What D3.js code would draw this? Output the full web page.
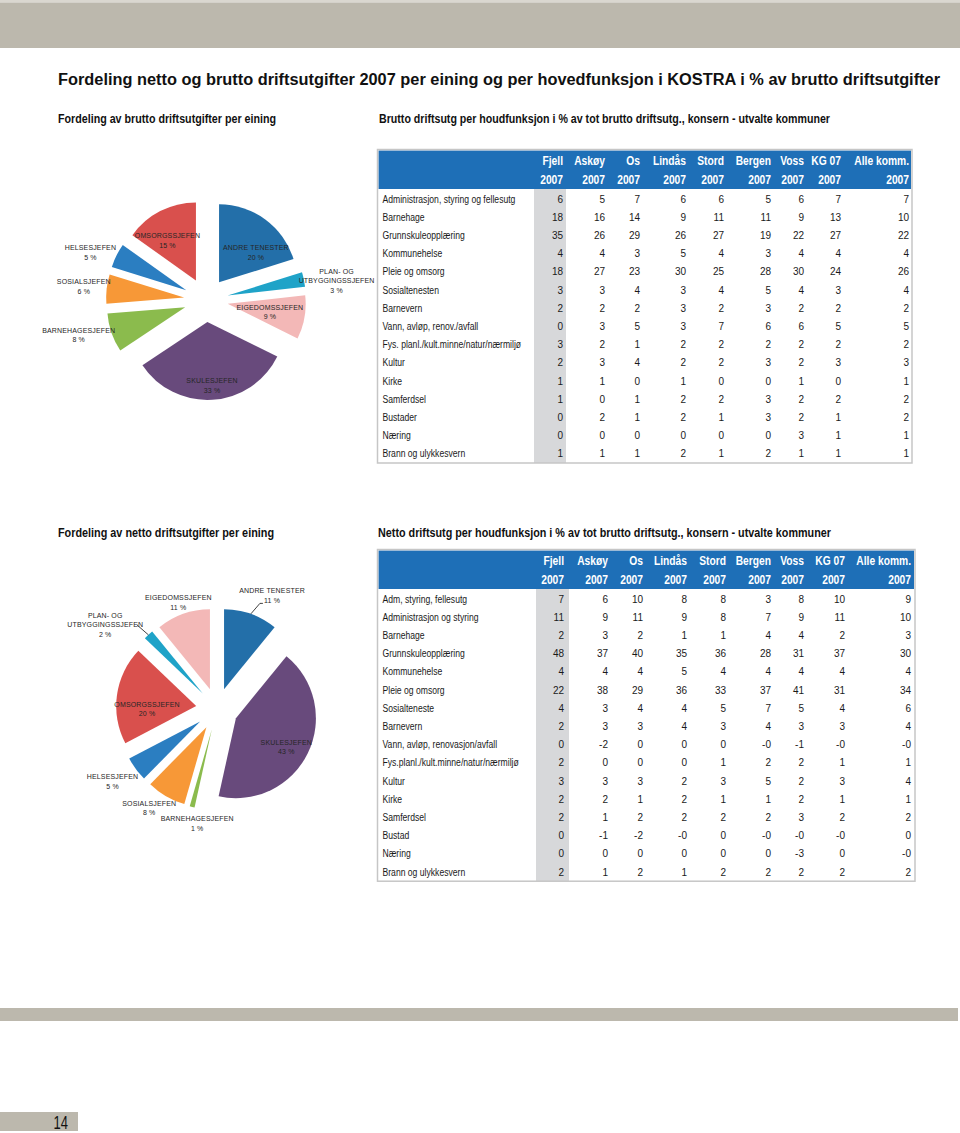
<!DOCTYPE html>
<html><head><meta charset="utf-8">
<script src="https://cdn.jsdelivr.net/npm/d3@7/dist/d3.min.js"></script>
<style>html,body{margin:0;padding:0;background:#fff}svg{display:block}</style>
</head><body>
<svg id="page" width="960" height="1133"></svg>
<script>
// ---------------- DATA ----------------
const pageTitle = "Fordeling netto og brutto driftsutgifter 2007 per eining og per hovedfunksjon i KOSTRA i % av brutto driftsutgifter";
const grossPieTitle = "Fordeling av brutto driftsutgifter per eining";
const grossTableTitle = "Brutto driftsutg per houdfunksjon i % av tot brutto driftsutg., konsern - utvalte kommuner";
const netPieTitle = "Fordeling av netto driftsutgifter per eining";
const netTableTitle = "Netto driftsutg per houdfunksjon i % av tot brutto driftsutg., konsern - utvalte kommuner";
const pageNumber = "14";

const unitNames = ["ANDRE TENESTER","PLAN- OG UTBYGGINGSSJEFEN","EIGEDOMSSJEFEN","SKULESJEFEN","BARNEHAGESJEFEN","SOSIALSJEFEN","HELSESJEFEN","OMSORGSSJEFEN"];
const unitColors = ["#236fa9","#1fa3c8","#f3b8b7","#684a7c","#8bbb4d","#f79837","#2b7ec1","#d9504d"];

const grossPieUnits  = ["ANDRE TENESTER","PLAN- OG UTBYGGINGSSJEFEN","EIGEDOMSSJEFEN","SKULESJEFEN","BARNEHAGESJEFEN","SOSIALSJEFEN","HELSESJEFEN","OMSORGSSJEFEN"];
const grossPieShares = [20, 3, 9, 33, 8, 6, 5, 15];
const netPieUnits    = ["ANDRE TENESTER","SKULESJEFEN","BARNEHAGESJEFEN","SOSIALSJEFEN","HELSESJEFEN","OMSORGSSJEFEN","PLAN- OG UTBYGGINGSSJEFEN","EIGEDOMSSJEFEN"];
const netPieShares   = [11, 43, 1, 8, 5, 20, 2, 11];

const municipalities = ["Fjell","Askøy","Os","Lindås","Stord","Bergen","Voss","KG 07","Alle komm."];
const yearLabel = "2007";

const grossFunctions = ["Administrasjon, styring og fellesutg","Barnehage","Grunnskuleopplæring","Kommunehelse","Pleie og omsorg","Sosialtenesten","Barnevern","Vann, avløp, renov./avfall","Fys. planl./kult.minne/natur/nærmiljø","Kultur","Kirke","Samferdsel","Bustader","Næring","Brann og ulykkesvern"];
const grossFjell  = [6,18,35,4,18,3,2,0,3,2,1,1,0,0,1];
const grossAskoy  = [5,16,26,4,27,3,2,3,2,3,1,0,2,0,1];
const grossOs     = [7,14,29,3,23,4,2,5,1,4,0,1,1,0,1];
const grossLindas = [6,9,26,5,30,3,3,3,2,2,1,2,2,0,2];
const grossStord  = [6,11,27,4,25,4,2,7,2,2,0,2,1,0,1];
const grossBergen = [5,11,19,3,28,5,3,6,2,3,0,3,3,0,2];
const grossVoss   = [6,9,22,4,30,4,2,6,2,2,1,2,2,3,1];
const grossKG07   = [7,13,27,4,24,3,2,5,2,3,0,2,1,1,1];
const grossAlle   = [7,10,22,4,26,4,2,5,2,3,1,2,2,1,1];

const netFunctions = ["Adm, styring, fellesutg","Administrasjon og styring","Barnehage","Grunnskuleopplæring","Kommunehelse","Pleie og omsorg","Sosialteneste","Barnevern","Vann, avløp, renovasjon/avfall","Fys.planl./kult.minne/natur/nærmiljø","Kultur","Kirke","Samferdsel","Bustad","Næring","Brann og ulykkesvern"];
const netFjell  = [7,11,2,48,4,22,4,2,0,2,3,2,2,0,0,2];
const netAskoy  = [6,9,3,37,4,38,3,3,-2,0,3,2,1,-1,0,1];
const netOs     = [10,11,2,40,4,29,4,3,0,0,3,1,2,-2,0,2];
const netLindas = [8,9,1,35,5,36,4,4,0,0,2,2,2,-0,0,1];
const netStord  = [8,8,1,36,4,33,5,3,0,1,3,1,2,0,0,2];
const netBergen = [3,7,4,28,4,37,7,4,-0,2,5,1,2,-0,0,2];
const netVoss   = [8,9,4,31,4,41,5,3,-1,2,2,2,3,-0,-3,2];
const netKG07   = [10,11,2,37,4,31,4,3,-0,1,3,1,2,-0,0,2];
const netAlle   = [9,10,3,30,4,34,6,4,-0,1,4,1,2,0,-0,2];

// ---------------- LAYOUT ----------------
const SANS = "'Liberation Sans',Arial,sans-serif";
const BAND = "#bcb8ad";

const svg = d3.select("#page");
const color = d3.scaleOrdinal().domain(unitNames).range(unitColors);
const fmt = v => Object.is(v, -0) ? "-0" : String(v);

function condense(sel, factor){
  sel.each(function(){
    const w = this.getComputedTextLength();
    d3.select(this).attr("textLength", w*factor).attr("lengthAdjust","spacingAndGlyphs");
  });
}

// page bands
svg.append("rect").attr("x",0).attr("y",0).attr("width",960).attr("height",2.5).attr("fill","#dad7d0");
svg.append("rect").attr("x",0).attr("y",2.5).attr("width",960).attr("height",45.5).attr("fill",BAND);
svg.append("rect").attr("x",0).attr("y",1008).attr("width",958).attr("height",13).attr("fill",BAND);
svg.append("rect").attr("x",0).attr("y",1112).attr("width",78).attr("height",19).attr("fill",BAND);
const pn = svg.append("text").attr("x",68).attr("y",1129).attr("text-anchor","end")
  .attr("font-family",SANS).attr("font-size",18).attr("fill","#111").text(pageNumber);
condense(pn, 0.72);

// titles
function heading(txt, x, y, size, len){
  svg.append("text").attr("x",x).attr("y",y).attr("font-family",SANS).attr("font-weight","bold")
    .attr("font-size",size).attr("fill","#111").attr("textLength",len).attr("lengthAdjust","spacingAndGlyphs").text(txt);
}
heading(pageTitle, 58, 85, 16, 882);
heading(grossPieTitle, 58, 122.5, 12, 218);
heading(grossTableTitle, 379, 122.5, 12, 451);
heading(netPieTitle, 58, 536.5, 12, 216);
heading(netTableTitle, 378, 536.5, 12, 453);

// ---------------- PIES ----------------
function drawPie(o){
  const pie = d3.pie().sort(null).value(d => d.share);
  const data = pie(o.units.map((u,i) => ({unit:u, share:o.shares[i]})));
  const arc = d3.arc().innerRadius(0).outerRadius(o.r);
  const dir = a => [Math.sin(a), -Math.cos(a)];
  const mid = d => (d.startAngle + d.endAngle)/2;
  const g = svg.append("g").attr("transform",`translate(${o.cx},${o.cy})`);
  g.selectAll("path.slice").data(data).join("path").attr("class","slice")
    .attr("transform", d => { const [x,y] = dir(mid(d)); return `translate(${x*o.explode},${y*o.explode})`; })
    .attr("d", arc).attr("fill", d => color(d.data.unit));
  (o.leaders || []).forEach(L => {
    const d = data[L.index];
    const a = mid(d);
    const [x1,y1] = dir(a).map(v => v*(o.r + o.explode));
    const [x2,y2] = dir(a + L.dd*Math.PI/180).map(v => v*L.dist);
    const pts = [[x1,y1],[x2,y2]];
    if (L.tick) pts.push([x2 + L.tick, y2]);
    g.append("path").attr("d", d3.line()(pts)).attr("fill","none").attr("stroke","#111").attr("stroke-width",0.8);
  });
  const lineH = 9.7;
  data.forEach((d,i) => {
    const [dist, dd] = o.labelPolar[i];
    const a = mid(d) + dd*Math.PI/180;
    const [x,y] = dir(a).map(v => v*dist);
    const lines = d.data.unit.replace("OG ", "OG\n").split("\n").concat([d.data.share + " %"]);
    const t = g.append("text").attr("text-anchor","middle").attr("font-family",SANS)
      .attr("font-size",7).attr("fill","#262626").attr("letter-spacing",0.15);
    const y0 = y - (lines.length-1)*lineH/2 + 2.5;
    lines.forEach((ln,k) => t.append("tspan").attr("x",x).attr("y",y0 + k*lineH).text(ln));
  });
}

drawPie({units:grossPieUnits, shares:grossPieShares, cx:206, cy:300, r:78, explode:22,
  labelPolar:[[69,10],[132,3.5],[65,0.6],[86,-0.4],[132,3.7],[123,0.1],[125,-4],[71,-5.6]]});
drawPie({units:netPieUnits, shares:netPieShares, cx:217, cy:709, r:80, explode:21,
  labelPolar:[[126,6.3],[79,2.8],[116,-4.4],[120,4.1],[127,1.9],[70,-8],[140,-10.2],[113,-0.4]],
  leaders:[{index:0, dist:114, dd:2.5, tick:3},{index:6, dist:116, dd:-0.8}]});

// ---------------- TABLES ----------------
function drawTable(o){
  const g = svg.append("g");
  const y = d3.scaleBand().domain(o.functions).range([o.rowsTop, o.rowsTop + o.rowH*o.functions.length]);
  const x = d3.scaleOrdinal().domain(municipalities).range(o.colRight);
  const bottom = o.rowsTop + o.rowH*o.functions.length;
  g.append("rect").attr("x",o.grayX[0]).attr("y",o.headerBottom).attr("width",o.grayX[1]-o.grayX[0])
    .attr("height",bottom - o.headerBottom).attr("fill","#d7d8da");
  g.append("rect").attr("x",o.left+1).attr("y",o.top+1).attr("width",o.right-o.left-2)
    .attr("height",o.headerBottom-o.top-1).attr("fill","#1e6fb7");
  g.append("rect").attr("x",o.left).attr("y",o.top).attr("width",o.right-o.left)
    .attr("height",bottom-o.top).attr("fill","none").attr("stroke","#c6c6c6").attr("stroke-width",1.5);
  const mun = g.selectAll("text.mun").data(municipalities).join("text").attr("class","mun")
    .attr("x", d => x(d)).attr("y", o.top+15.5).attr("text-anchor","end")
    .attr("font-family",SANS).attr("font-weight","bold").attr("font-size",12.5).attr("fill","#fff").text(d => d);
  const yr = g.selectAll("text.yr").data(municipalities).join("text").attr("class","yr")
    .attr("x", d => x(d)).attr("y", o.top+34.5).attr("text-anchor","end")
    .attr("font-family",SANS).attr("font-weight","bold").attr("font-size",12.5).attr("fill","#fff").text(yearLabel);
  condense(mun, 0.82); condense(yr, 0.82);
  const fn = g.selectAll("text.fn").data(o.functions).join("text").attr("class","fn")
    .attr("x", o.left+5).attr("y", d => y(d) + y.bandwidth()/2 + 3.5)
    .attr("font-family",SANS).attr("font-size",10).attr("fill","#1a1a1a").text(d => d);
  condense(fn, 0.86);
  o.columns.forEach((col, ci) => {
    const m = municipalities[ci];
    g.selectAll(null).data(col).join("text")
      .attr("x", x(m)).attr("y", (d,ri) => y(o.functions[ri]) + y.bandwidth()/2 + 3.5)
      .attr("text-anchor","end").attr("font-family",SANS).attr("font-size",10).attr("fill","#1a1a1a")
      .text(d => fmt(d));
  });
}

drawTable({functions:grossFunctions,
  columns:[grossFjell,grossAskoy,grossOs,grossLindas,grossStord,grossBergen,grossVoss,grossKG07,grossAlle],
  colRight:[563,605,640,686,724,771,804,841,909],
  left:377.5, right:912, top:149.5, headerBottom:189, rowsTop:190, rowH:18.2, grayX:[534,566]});
drawTable({functions:netFunctions,
  columns:[netFjell,netAskoy,netOs,netLindas,netStord,netBergen,netVoss,netKG07,netAlle],
  colRight:[564,608,643,687,726,771,804,845,911],
  left:377.5, right:915, top:549.5, headerBottom:589, rowsTop:590, rowH:18.2, grayX:[536,569]});
</script>
</body></html>
